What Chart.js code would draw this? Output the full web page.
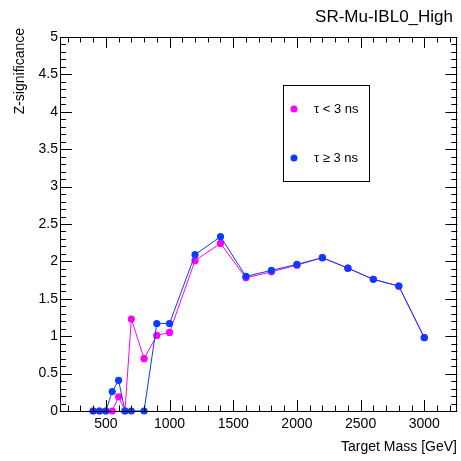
<!DOCTYPE html>
<html>
<head>
<meta charset="utf-8">
<title>SR-Mu-IBL0_High</title>
<script src="https://cdn.jsdelivr.net/npm/chart.js@4.4.1/dist/chart.umd.min.js"></script>
<style>
  html, body { margin: 0; padding: 0; background: #fff; }
</style>
</head>
<body>
<canvas id="zsig" width="461" height="461"></canvas>
<script>
// ---------------- significance vs target mass ----------------
var masses = [400, 450, 500, 550, 600, 650, 700, 800, 900, 1000, 1200, 1400, 1600, 1800, 2000, 2200, 2400, 2600, 2800, 3000];
var zShort = [0, 0, 0, 0, 0.19, 0, 1.23, 0.70, 1.01, 1.05, 2.01, 2.24, 1.78, 1.86, 1.95, 2.05, 1.91, 1.76, 1.67, 0.98];
var zLong  = [0, 0, 0, 0.26, 0.41, 0, 0, 0, 1.17, 1.17, 2.09, 2.33, 1.80, 1.88, 1.96, 2.05, 1.91, 1.76, 1.67, 0.98];
var seriesNames = ['\u03c4 < 3 ns', '\u03c4 \u2265 3 ns'];
var xTicks = [500, 1000, 1500, 2000, 2500, 3000];
var yTicks = [0, 0.5, 1, 1.5, 2, 2.5, 3, 3.5, 4, 4.5, 5];

var FONT = 'Liberation Sans, Arial, Helvetica, sans-serif';
Chart.defaults.font.family = FONT;
Chart.defaults.color = '#000';

function pts(vals) {
  return masses.map(function (m, i) { return { x: m, y: vals[i] }; });
}

// frame, inward ticks on all four sides, titles and the legend box
var rootStyle = {
  id: 'rootStyle',
  afterDraw: function (chart) {
    var c = chart.ctx, a = chart.chartArea;
    var xs = chart.scales.x, ys = chart.scales.y;
    c.save();
    c.strokeStyle = '#000';
    c.lineWidth = 1;
    c.strokeRect(Math.round(a.left) + 0.5, Math.round(a.top) + 0.5,
                 Math.round(a.right - a.left) - 1, Math.round(a.bottom - a.top));

    c.beginPath();
    var v, px, len;
    for (v = 200; v <= 3200; v += 100) {
      px = Math.round(xs.getPixelForValue(v)) + 0.5;
      len = (v % 500 === 0) ? 11 : 5.5;
      c.moveTo(px, a.bottom); c.lineTo(px, a.bottom - len);
      c.moveTo(px, a.top); c.lineTo(px, a.top + len);
    }
    for (var k = 0; k <= 50; k++) {
      v = k / 10;
      px = Math.round(ys.getPixelForValue(v)) + 0.5;
      len = (k % 5 === 0) ? 12 : 6;
      c.moveTo(a.left, px); c.lineTo(a.left + len, px);
      c.moveTo(a.right, px); c.lineTo(a.right - len, px);
    }
    c.stroke();

    // titles
    c.fillStyle = '#000';
    c.font = '17px ' + FONT;
    c.textAlign = 'right';
    c.textBaseline = 'alphabetic';
    c.fillText('SR-Mu-IBL0_High', 453, 22);

    c.font = '14px ' + FONT;
    c.fillText('Target Mass [GeV]', 457, 451);

    c.save();
    c.translate(24, 28);
    c.rotate(-Math.PI / 2);
    c.textAlign = 'right';
    c.fillText('Z-significance', 0, 0);
    c.restore();

    // legend
    c.fillStyle = '#fff';
    c.fillRect(283, 85, 86, 96);
    c.strokeRect(283.5, 85.5, 86, 96);
    var rows = [109, 158];
    chart.data.datasets.forEach(function (ds, i) {
      c.fillStyle = ds.backgroundColor;
      c.beginPath();
      c.arc(294, rows[i], 3.5, 0, Math.PI * 2);
      c.fill();
      c.fillStyle = '#000';
      c.font = '13px ' + FONT;
      c.textAlign = 'left';
      c.textBaseline = 'middle';
      c.fillText(ds.label, 314, rows[i]);
    });
    c.restore();
  }
};

new Chart(document.getElementById('zsig'), {
  type: 'line',
  data: {
    datasets: [{
      label: seriesNames[0],
      data: pts(zShort),
      borderColor: '#ff00ff',
      backgroundColor: '#ff00ff',
      order: 1
    }, {
      label: seriesNames[1],
      data: pts(zLong),
      borderColor: '#0a3cff',
      backgroundColor: '#0a3cff',
      order: 0
    }]
  },
  options: {
    responsive: false,
    animation: false,
    devicePixelRatio: 1,
    layout: { padding: { top: 37, right: 3, left: 0, bottom: 0 } },
    elements: {
      line: { borderWidth: 1, tension: 0 },
      point: { radius: 3.6, borderWidth: 0, hoverRadius: 3.6 }
    },
    datasets: { line: { clip: false } },
    plugins: { legend: { display: false }, tooltip: { enabled: false } },
    scales: {
      x: {
        type: 'linear',
        min: 140,
        max: 3260,
        grid: { display: false, drawTicks: false },
        border: { display: false },
        afterBuildTicks: function (s) { s.ticks = xTicks.map(function (t) { return { value: t }; }); },
        afterFit: function (s) { s.height = 50; },
        ticks: { font: { size: 14 }, padding: 5, maxRotation: 0, autoSkip: false,
                 callback: function (v) { return String(v); } }
      },
      y: {
        min: 0,
        max: 5,
        grid: { display: false, drawTicks: false },
        border: { display: false },
        afterBuildTicks: function (s) { s.ticks = yTicks.map(function (t) { return { value: t }; }); },
        afterFit: function (s) { s.width = 60; },
        ticks: { font: { size: 14 }, padding: 2, autoSkip: false,
                 callback: function (v) { return String(v); } }
      }
    }
  },
  plugins: [rootStyle]
});
</script>
</body>
</html>
